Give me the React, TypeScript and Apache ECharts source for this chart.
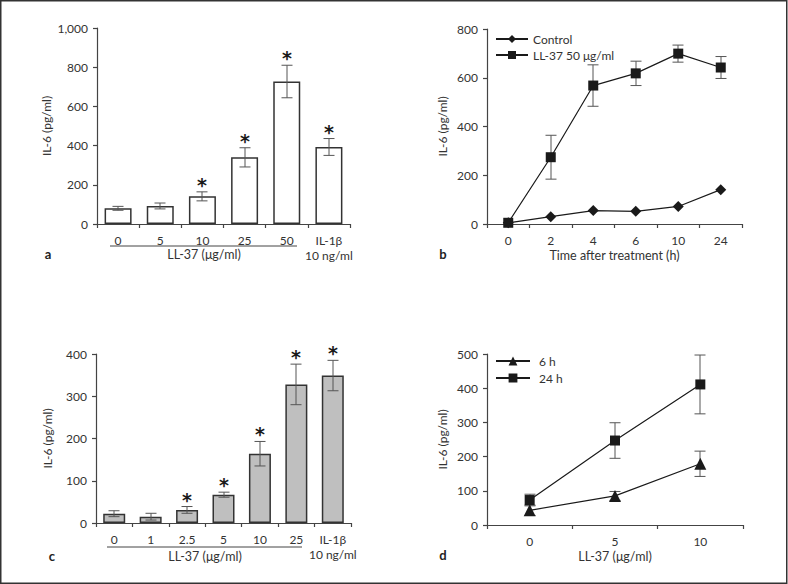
import React, { useEffect, useRef } from "react";
import * as echarts from "echarts";

// Panel a
const aCategories = ["0", "5", "10", "25", "50", "IL-1β"];
const aMeans = [80, 92, 141, 340, 727, 393];
const aErrors = [10, 15, 23, 49, 83, 43];
const aSig = [0, 0, 1, 1, 1, 1];
const aYTicks = { min: 0, max: 1000, interval: 200 };

// Panel b
const bTimes = ["0", "2", "4", "6", "10", "24"];
const bControl = [5, 30, 55, 52, 72, 141];
const bLL37 = [5, 274, 568, 618, 699, 642];
const bLL37Err = [0, 90, 85, 50, 35, 45];
const bYTicks = { min: 0, max: 800, interval: 200 };

// Panel c
const cCategories = ["0", "1", "2.5", "5", "10", "25", "IL-1β"];
const cMeans = [22, 15, 31, 67, 164, 328, 349];
const cErrors = [7, 8, 8, 6, 29, 48, 36];
const cSig = [0, 0, 1, 1, 1, 1, 1];
const cYTicks = { min: 0, max: 400, interval: 100 };

// Panel d
const dDoses = ["0", "5", "10"];
const d6h = [43, 85, 179];
const d6hErr = [15, 13, 37];
const d24h = [73, 247, 411];
const d24hErr = [17, 52, 86];
const dYTicks = { min: 0, max: 500, interval: 100 };

const FONT = "Lato";
const TXT = "#333";
const AX = "#444";

function errData(means: number[], errs: number[], sig?: number[]) {
  return means.map((m, i) => [i, m, errs[i], sig ? sig[i] : 0]);
}

function errSeries(idx: number, data: number[][], cap: number) {
  return {
    type: "custom",
    xAxisIndex: idx,
    yAxisIndex: idx,
    z: 3,
    silent: true,
    itemStyle: { color: "#222" },
    data,
    renderItem: (params: any, api: any) => {
      const x = api.value(0);
      const m = api.value(1);
      const e = api.value(2);
      const s = api.value(3);
      const top = api.coord([x, m + e]);
      const bot = api.coord([x, m - e]);
      const cx = Math.round(top[0]);
      const st = { stroke: "#555", lineWidth: 1 };
      const children: any[] = [];
      if (e > 0) {
        children.push(
          { type: "line", shape: { x1: cx, y1: top[1], x2: cx, y2: bot[1] }, style: st },
          { type: "line", shape: { x1: cx - cap, y1: top[1], x2: cx + cap, y2: top[1] }, style: st },
          { type: "line", shape: { x1: cx - cap, y1: bot[1], x2: cx + cap, y2: bot[1] }, style: st }
        );
      }
      if (s) {
        children.push({
          type: "text",
          style: {
            text: "*",
            x: cx,
            y: Math.round(top[1] + 2),
            align: "center",
            verticalAlign: "bottom",
            fontSize: 19,
            fontWeight: "bold",
            fontFamily: "DejaVu Sans",
            fill: "#1a1a1a",
          },
        });
      }
      return { type: "group", children };
    },
  };
}

function xAxisCat(idx: number, data: string[], extra: any = {}) {
  return {
    type: "category",
    gridIndex: idx,
    data,
    boundaryGap: true,
    axisLine: { lineStyle: { color: AX, width: 1.2 } },
    axisTick: { show: true, length: 4, interval: 0, lineStyle: { color: AX, width: 1.2 } },
    axisLabel: { interval: 0, color: TXT, fontSize: 12, fontFamily: FONT, margin: 9, lineHeight: 15 },
    splitLine: { show: false },
    ...extra,
  };
}

function yAxisVal(idx: number, t: { min: number; max: number; interval: number }, gap: number) {
  return {
    type: "value",
    gridIndex: idx,
    min: t.min,
    max: t.max,
    interval: t.interval,
    name: "IL-6 (pg/ml)",
    nameLocation: "middle",
    nameGap: gap,
    nameTextStyle: { color: TXT, fontSize: 12, fontFamily: FONT },
    axisLine: { show: true, lineStyle: { color: AX, width: 1.2 } },
    axisTick: { show: true, length: 4, lineStyle: { color: AX, width: 1.2 } },
    axisLabel: {
      color: TXT,
      fontSize: 12,
      fontFamily: FONT,
      margin: 9,
      formatter: (v: number) => v.toLocaleString("en-US"),
    },
    splitLine: { show: false },
  };
}

const lineStyle = { color: "#1a1a1a", width: 1.2 };

export default function App() {
  const ref = useRef<HTMLDivElement>(null);
  useEffect(() => {
    if (!ref.current) return;
    const chart = echarts.init(ref.current, null, { renderer: "svg" });
    const lastLabel = (v: string) => (v === "IL-1β" ? "IL-1β\n10 ng/ml" : v);
    const option: any = {
      animation: false,
      backgroundColor: "#fff",
      textStyle: { fontFamily: FONT },
      grid: [
        { left: 97, right: 438, top: 28, bottom: 360 },
        { left: 487, right: 46, top: 29, bottom: 360 },
        { left: 96, right: 437, top: 354, bottom: 61 },
        { left: 487, right: 45, top: 354, bottom: 59 },
      ],
      legend: [
        {
          left: 490,
          top: 28,
          orient: "vertical",
          itemWidth: 32,
          itemHeight: 10,
          itemGap: 4,
          data: ["Control", "LL-37 50 μg/ml"],
          textStyle: { color: TXT, fontSize: 12, fontFamily: FONT },
        },
        {
          left: 490,
          top: 350,
          orient: "vertical",
          itemWidth: 34,
          itemHeight: 11,
          itemGap: 5,
          data: ["6 h", "24 h"],
          textStyle: { color: TXT, fontSize: 12, fontFamily: FONT, padding: [0, 0, 0, 4] },
        },
      ],
      xAxis: [
        xAxisCat(0, aCategories, { axisLabel: { interval: 0, color: TXT, fontSize: 12, fontFamily: FONT, margin: 9, lineHeight: 15, formatter: lastLabel } }),
        xAxisCat(1, bTimes, {
          name: "Time after treatment (h)",
          nameLocation: "middle",
          nameGap: 24,
          nameTextStyle: { color: TXT, fontSize: 12.5, fontFamily: FONT },
        }),
        xAxisCat(2, cCategories, { axisLabel: { interval: 0, color: TXT, fontSize: 12, fontFamily: FONT, margin: 9, lineHeight: 15, formatter: lastLabel } }),
        xAxisCat(3, dDoses, {
          name: "LL-37 (μg/ml)",
          nameLocation: "middle",
          nameGap: 23,
          nameTextStyle: { color: TXT, fontSize: 12.5, fontFamily: FONT },
        }),
      ],
      yAxis: [
        yAxisVal(0, aYTicks, 45),
        yAxisVal(1, bYTicks, 39),
        yAxisVal(2, cYTicks, 43),
        yAxisVal(3, dYTicks, 39),
      ],
      series: [
        {
          type: "bar",
          xAxisIndex: 0,
          yAxisIndex: 0,
          data: aMeans,
          barWidth: 27,
          itemStyle: { color: "#fff", borderColor: "#333", borderWidth: 1.5 },
          z: 2,
        },
        errSeries(0, errData(aMeans, aErrors, aSig), 5.5),
        {
          type: "line",
          name: "Control",
          xAxisIndex: 1,
          yAxisIndex: 1,
          data: bControl,
          symbol: "diamond",
          symbolSize: 11,
          lineStyle,
          itemStyle: { color: "#1a1a1a" },
          z: 4,
        },
        {
          type: "line",
          name: "LL-37 50 μg/ml",
          xAxisIndex: 1,
          yAxisIndex: 1,
          data: bLL37,
          symbol: "rect",
          symbolSize: 10,
          lineStyle,
          itemStyle: { color: "#1a1a1a" },
          z: 4,
        },
        errSeries(1, errData(bLL37, bLL37Err), 5.5),
        {
          type: "bar",
          xAxisIndex: 2,
          yAxisIndex: 2,
          data: cMeans,
          barWidth: 22,
          itemStyle: { color: "#bfbfbf", borderColor: "#333", borderWidth: 1.5 },
          z: 2,
        },
        errSeries(2, errData(cMeans, cErrors, cSig), 5.5),
        {
          type: "line",
          name: "6 h",
          xAxisIndex: 3,
          yAxisIndex: 3,
          data: d6h,
          symbol: "triangle",
          symbolSize: 12,
          lineStyle,
          itemStyle: { color: "#1a1a1a" },
          z: 4,
        },
        {
          type: "line",
          name: "24 h",
          xAxisIndex: 3,
          yAxisIndex: 3,
          data: d24h,
          symbol: "rect",
          symbolSize: 10,
          lineStyle,
          itemStyle: { color: "#1a1a1a" },
          z: 4,
        },
        errSeries(3, errData(d6h, d6hErr), 5.5),
        errSeries(3, errData(d24h, d24hErr), 5.5),
      ],
      graphic: [
        {
          type: "rect",
          shape: { x: 0.75, y: 0.75, width: 786, height: 582.5 },
          style: { fill: "none", stroke: "#333", lineWidth: 1.5 },
          silent: true,
        },
        { type: "line", shape: { x1: 110, y1: 246, x2: 297, y2: 246 }, style: { stroke: "#444", lineWidth: 1 } },
        { type: "text", x: 204, y: 254, style: { text: "LL-37 (μg/ml)", align: "center", verticalAlign: "middle", fontSize: 12.5, fontFamily: FONT, fill: TXT } },
        { type: "text", x: 48, y: 254, style: { text: "a", align: "center", verticalAlign: "middle", fontSize: 13, fontWeight: "bold", fontFamily: FONT, fill: "#222" } },
        { type: "text", x: 443, y: 254, style: { text: "b", align: "center", verticalAlign: "middle", fontSize: 13, fontWeight: "bold", fontFamily: FONT, fill: "#222" } },
        { type: "line", shape: { x1: 107, y1: 547, x2: 302, y2: 547 }, style: { stroke: "#444", lineWidth: 1 } },
        { type: "text", x: 205, y: 556, style: { text: "LL-37 (μg/ml)", align: "center", verticalAlign: "middle", fontSize: 12.5, fontFamily: FONT, fill: TXT } },
        { type: "text", x: 52, y: 556, style: { text: "c", align: "center", verticalAlign: "middle", fontSize: 13, fontWeight: "bold", fontFamily: FONT, fill: "#222" } },
        { type: "text", x: 443, y: 555, style: { text: "d", align: "center", verticalAlign: "middle", fontSize: 13, fontWeight: "bold", fontFamily: FONT, fill: "#222" } },
      ],
    };
    chart.setOption(option);
    return () => chart.dispose();
  }, []);
  return (
    <div
      ref={ref}
      style={{ position: "absolute", left: 0, top: 0, width: 788, height: 584 }}
    />
  );
}
